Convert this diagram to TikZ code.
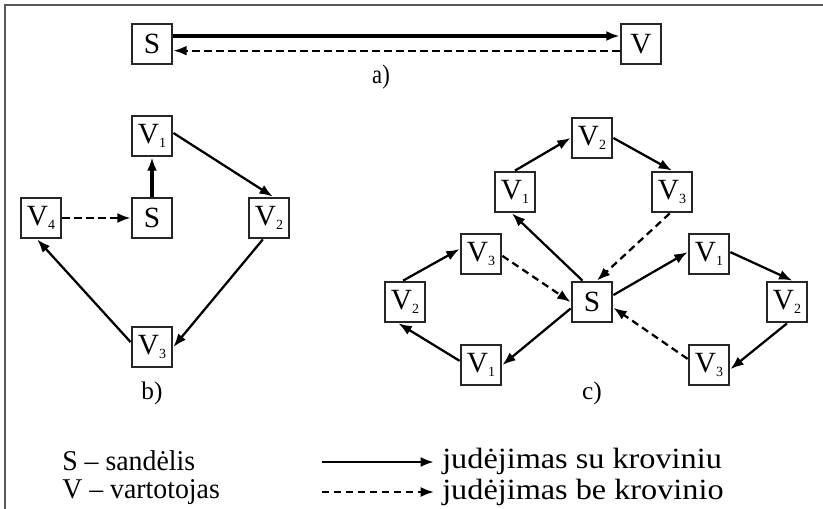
\documentclass[tikz,border=0pt]{standalone}
\usepackage{fontspec}
\setmainfont{Liberation Serif}
\newfontfamily\legwide[FakeStretch=1.1]{Liberation Serif}
\newfontfamily\legnarrow[FakeStretch=0.97]{Liberation Serif}
\newfontfamily\labnarrow[FakeStretch=0.85]{Liberation Serif}
\usetikzlibrary{arrows.meta}
\newcommand{\Vs}[1]{V\raisebox{-3.5pt}{\fontsize{10.5}{10.5}\selectfont #1}}
\begin{document}
\begin{tikzpicture}[x=0.75pt,y=-0.75pt,
  bx/.style={draw=black!85,line width=1.6pt,minimum size=30.5pt,inner sep=0pt,font=\fontsize{22}{22}\selectfont},
  lab/.style={font=\fontsize{19}{19}\selectfont},
  legl/.style={font=\legnarrow\fontsize{21.5}{21.5}\selectfont,anchor=west,inner sep=0pt},
  legr/.style={font=\legwide\fontsize{22}{22}\selectfont,anchor=west,inner sep=0pt},
  ar/.style={line width=1.7pt,-{Latex[length=10pt,width=7.5pt]}},
  da/.style={ar,dash pattern=on 5.5pt off 3.5pt}]
\useasboundingbox (0,0) rectangle (823,509);
\draw[line width=1.6pt,black!65] (5,509) -- (5,5) -- (823,5);
% a)
\node[bx] (aS) at (152,44) {S};
\node[bx] (aV) at (641,44) {V};
\draw[ar,line width=2.4pt] ([yshift=6pt]aS.east) -- ([yshift=6pt]aV.west);
\draw[da] ([yshift=-5pt]aV.west) -- ([yshift=-5pt]aS.east);
\node[font=\labnarrow\fontsize{20}{20}\selectfont] (la) at (381,77) {a)};
% b)
\node[bx] (b1) at (152,136) {\Vs{1}};
\node[bx] (bS) at (152,218) {S};
\node[bx] (b4) at (41,218) {\Vs{4}};
\node[bx] (b2) at (269,218) {\Vs{2}};
\node[bx] (b3) at (152,347) {\Vs{3}};
\node[lab] (lb) at (152,393) {b)};
\draw[ar,line width=2.4pt] (bS.north) -- (b1.south);
\draw[ar] (b1.8) -- (b2.80);
\draw[ar] (b2.254) -- (b3.east);
\draw[ar] (b3.167) -- (b4.260);
\draw[da] (b4.east) -- (bS.west);
% c)
\node[bx] (cS) at (592,302) {S};
\node[bx] (u1) at (515,192) {\Vs{1}};
\node[bx] (u2) at (592,138) {\Vs{2}};
\node[bx] (u3) at (672,192) {\Vs{3}};
\node[bx] (r1) at (709,254) {\Vs{1}};
\node[bx] (r2) at (787,302) {\Vs{2}};
\node[bx] (r3) at (709,365) {\Vs{3}};
\node[bx] (l3) at (481,254) {\Vs{3}};
\node[bx] (l2) at (405,302) {\Vs{2}};
\node[bx] (l1) at (481,365) {\Vs{1}};
\node[lab] (lc) at (592,393) {c)};
\draw[ar] (cS.114) -- (u1.262);
\draw[ar] (u1.north) -- (u2.west);
\draw[ar] (u2.east) -- (u3.north);
\draw[da] (u3.264) -- (cS.77);
\draw[ar] (cS.18) -- (r1.175);
\draw[ar] (r1.5) -- (r2.76);
\draw[ar] (r2.south) -- (r3.349);
\draw[da] (r3.164) -- (cS.345);
\draw[ar] (cS.197) -- (l1.east);
\draw[ar] (l1.169) -- (l2.253);
\draw[ar] (l2.95) -- (l3.167);
\draw[da] (l3.355) -- (cS.west);
% legend
\node[legl] (t1) at (62,461) {S – sandėlis};
\node[legl] (t2) at (62,492) {V – vartotojas};
\coordinate (p1) at (322,462);
\coordinate (q1) at (434,462);
\coordinate (p2) at (322,492);
\coordinate (q2) at (434,492);
\draw[ar,line width=2.2pt] (p1) -- (q1);
\draw[da] (p2) -- (q2);
\node[legr] (t3) at (442,461) {judėjimas su kroviniu};
\node[legr] (t4) at (442,492) {judėjimas be krovinio};
\end{tikzpicture}
\end{document}
